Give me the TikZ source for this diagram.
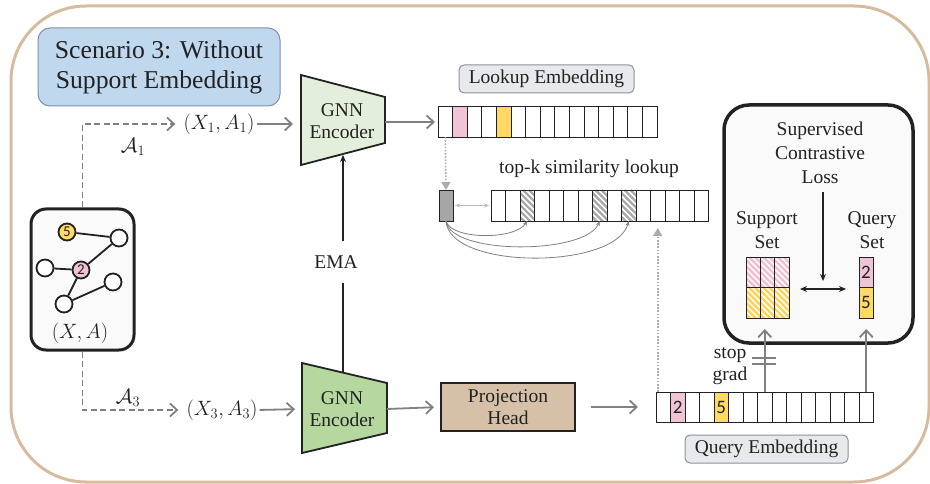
\documentclass[tikz,border=0pt]{standalone}
\usepackage{fontspec}
\setmainfont{Liberation Serif}
\newfontfamily\digitfont{Carlito}
\usetikzlibrary{arrows.meta,calc}
\definecolor{framec}{HTML}{D6BC9E}
\definecolor{scenfill}{HTML}{C0D8EE}
\definecolor{scendraw}{HTML}{8090A8}
\definecolor{lblfill}{HTML}{E8E9EC}
\definecolor{lbldraw}{HTML}{8C929C}
\definecolor{lgreen}{HTML}{E3EFDA}
\definecolor{mgreen}{HTML}{B5D89E}
\definecolor{projc}{HTML}{D6C1A8}
\definecolor{pinkc}{HTML}{F0C4D6}
\definecolor{pinkh}{HTML}{F2BCD2}
\definecolor{yellc}{HTML}{FFD966}
\definecolor{yellh}{HTML}{FFD34D}
\definecolor{greyc}{HTML}{A6A6A6}
\definecolor{greyh}{HTML}{A8A8A8}
\definecolor{arrg}{HTML}{808080}
\definecolor{dotg}{HTML}{ABABAB}
\definecolor{textc}{HTML}{222222}
\tikzset{
  cell/.style={draw=textc, line width=0.9pt, minimum width=14.5pt, minimum height=31pt, inner sep=0pt, outer sep=0pt, font=\digitfont\fontsize{19}{19}\selectfont},
  hatch/.style={path picture={\foreach \k in {-45,-39,...,20}{\draw[#1,line width=2.2pt] ($(path picture bounding box.north west)+(\k,0)$) -- ++(50,50);}}},
  ghatch/.style={hatch=greyh},
  plaincell/.style={fill=white},
  garrow/.style={draw=arrg, line width=1.8pt, -{Straight Barb[length=7pt,width=13pt]}},
  dasharrow/.style={draw=arrg, line width=1.8pt, dash pattern=on 6pt off 3.5pt, -{Straight Barb[length=7pt,width=13pt]}},
  barrow/.style={draw=textc, line width=1.8pt, -{Stealth[length=7pt,width=6pt]}},
  dotarrow/.style={draw=dotg, line width=1.6pt, dash pattern=on 1.6pt off 1.6pt, -{Triangle[length=8pt,width=9pt]}},
  thinarrow/.style={draw=arrg, line width=0.8pt, -{Stealth[length=5pt,width=4pt]}},
  lbl/.style={draw=lbldraw, fill=lblfill, line width=1pt, rounded corners=5pt, inner sep=0pt},
  gnode/.style={circle, draw=textc, line width=1.8pt, fill=white, minimum size=17pt, inner sep=0pt, font=\digitfont\fontsize{15}{15}\selectfont},
}
\begin{document}
\begin{tikzpicture}[x=1pt,y=-1pt, font=\fontsize{19.5}{23}\selectfont, text=textc]
\useasboundingbox (0,0) rectangle (930,484);
% outer frame
\draw[framec, line width=3pt, rounded corners=75pt] (11,6) rectangle (929,482);
% scenario label
\node[draw=scendraw, fill=scenfill, line width=1pt, rounded corners=12pt, minimum width=242pt, minimum height=78pt, align=center, font=\fontsize{25.7}{30}\selectfont] (scen) at (159,67) {Scenario 3: Without\\Support Embedding};
% graph box
\node[draw=textc, fill=black!2, line width=3pt, rounded corners=15pt, minimum width=103pt, minimum height=141pt] (gbox) at (82.5,279.5) {};
\node[gnode, fill=yellc] (n5) at (67,232) {5};
\node[gnode] (na) at (119,238) {};
\node[gnode] (nb) at (45,268) {};
\node[gnode, fill=pinkc] (n2) at (81,270) {2};
\node[gnode] (nc) at (113,282) {};
\node[gnode] (nd) at (64,304) {};
\draw[textc, line width=1.8pt] (n5) -- (na) (nb) -- (n2) (n2) -- (na) (n2) -- (nd) (nd) -- (nc);
\node (xa) at (80,333) {$(X,A)$};
% augmented views
\node[inner sep=0pt] (xa1) at (219,124) {$(X_1,A_1)$};
\node[inner sep=0pt] (xa3) at (222,410) {$(X_3,A_3)$};
\draw[dasharrow, shorten >=8pt] (gbox.north) |- (xa1.west);
\draw[dasharrow, shorten >=8pt] (gbox.south) |- (xa3.west);
\node at (133,147) {$\mathcal{A}_1$};
\node at (128,398) {$\mathcal{A}_3$};
% encoders
\coordinate (e1a) at (301,75); \coordinate (e1b) at (385,97); \coordinate (e1c) at (385,143); \coordinate (e1d) at (301,165);
\filldraw[fill=lgreen, draw=textc, line width=1.8pt] (e1a) -- (e1b) -- (e1c) -- (e1d) -- cycle;
\node[align=center, font=\fontsize{19.5}{22}\selectfont] (enc1) at (342,121) {GNN\\Encoder};
\coordinate (e2a) at (302,363); \coordinate (e2b) at (387,383); \coordinate (e2c) at (387,433); \coordinate (e2d) at (302,453);
\filldraw[fill=mgreen, draw=textc, line width=1.8pt] (e2a) -- (e2b) -- (e2c) -- (e2d) -- cycle;
\node[align=center, font=\fontsize{19.5}{22}\selectfont] (enc2) at (342,409) {GNN\\Encoder};
\coordinate (e1in) at (301,124); \coordinate (e2in) at (302,409);
\coordinate (e1out) at (385,122); \coordinate (e2out) at (387,409);
\coordinate (e1bot) at (343,155); \coordinate (e2top) at (343,373);
\draw[garrow, shorten <=2pt, shorten >=8pt] (xa1.east) -- (xa1.east -| e1in);
\draw[garrow, shorten <=2pt, shorten >=7pt] (xa3.east) -- (e2in);
\draw[barrow] (e2top) -- (e1bot);
\node[fill=white, inner sep=2pt, minimum height=42pt] (ema) at (336,262) {EMA};
% lookup embedding
\node[lbl, minimum width=175pt, minimum height=28pt] (lklbl) at (546.5,79) {Lookup Embedding};
\foreach \i/\f in {0/white,1/pinkc,2/white,3/white,4/yellc,5/white,6/white,7/white,8/white,9/white,10/white,11/white,12/white,13/white,14/white}{
  \node[cell, fill=\f, minimum width=14.6pt] (lk\i) at ({438+14.6*\i+7.3},121.5) {};
}
\draw[garrow, shorten >=3pt] (e1out) -- (lk0.west |- e1out);
% similarity lookup
\node (simt) at (589,169) {top-k similarity lookup};
\node[cell, fill=greyc, minimum width=14pt] (gq) at (446,205.5) {};
\foreach \i/\s in {0/plaincell,1/plaincell,2/ghatch,3/plaincell,4/plaincell,5/plaincell,6/plaincell,7/ghatch,8/plaincell,9/ghatch,10/plaincell,11/plaincell,12/plaincell,13/plaincell,14/plaincell}{
  \node[cell, \s] (s\i) at ({491+14.5*\i+7.25},205.5) {};
}
\draw[dotarrow] (lk0.south) -- (gq.north);
\draw[draw=dotg!80, line width=0.8pt, {Stealth[length=5pt,width=4pt]}-{Stealth[length=5pt,width=4pt]}, shorten <=2pt, shorten >=2pt] (gq.east) -- (s0.west);
\draw[thinarrow] (gq.south) .. controls (451,240) and (515,240) .. (s2.south);
\draw[thinarrow] (gq.south) .. controls (450,255) and (585,255) .. (s7.south);
\draw[thinarrow] (gq.south) .. controls (449,270) and (615,270) .. (s9.south);
% projection head
\node[draw=textc, fill=projc, line width=2pt, minimum width=134pt, minimum height=48pt, align=center, font=\fontsize{19.5}{22}\selectfont] (proj) at (508,407) {Projection\\Head};
\draw[garrow, shorten >=6pt] (e2out) -- (proj.west);
% query embedding
\foreach \i/\f/\t in {0/white/,1/pinkc/2,2/white/,3/white/,4/yellc/5,5/white/,6/white/,7/white/,8/white/,9/white/,10/white/,11/white/,12/white/,13/white/,14/white/}{
  \node[cell, fill=\f, minimum height=30pt] (q\i) at ({656+14.5*\i+7.25},407) {\t};
}
\draw[garrow, shorten <=15pt, shorten >=18pt] (proj.east) -- (q0.west);
\node[lbl, minimum width=163pt, minimum height=28pt] (qlbl) at (766.5,449) {Query Embedding};
\draw[dotarrow, shorten >=7pt] (s11.south |- q0.north) -- (s11.south);
% loss box
\node[draw=textc, fill=black!2, line width=3.5pt, rounded corners=25pt, minimum width=189pt, minimum height=238pt] (loss) at (818.5,224) {};
\node[align=center, font=\fontsize{19.5}{24}\selectfont] (losst) at (820,153) {Supervised\\Contrastive\\Loss};
\node[align=center, font=\fontsize{19.5}{24}\selectfont] (supt) at (767,230) {Support\\Set};
\node[align=center, font=\fontsize{19.5}{24}\selectfont] (qryt) at (872,230) {Query\\Set};
\foreach \c in {0,1,2}{
  \node[cell, hatch=pinkh, minimum width=14.33pt, minimum height=30.5pt] (sp\c) at ({746+14.33*\c+7.17},272.25) {};
  \node[cell, hatch=yellh, minimum width=14.33pt, minimum height=30.5pt] (sy\c) at ({746+14.33*\c+7.17},302.75) {};
}
\node[cell, fill=pinkc, minimum width=14pt, minimum height=30.5pt] (qs2) at (866,272.25) {2};
\node[cell, fill=yellc, minimum width=14pt, minimum height=30.5pt] (qs5) at (866,302.75) {5};
\coordinate (lossin) at (823,192);
\coordinate (lossmid) at (823,281);
\draw[barrow] (lossin) -- (lossmid);
\coordinate (dl) at (800,289); \coordinate (dr) at (846,289);
\draw[draw=textc, line width=1.8pt, {Stealth[length=7pt,width=6pt]}-{Stealth[length=7pt,width=6pt]}] (dl) -- (dr);
% arrows from query embedding
\draw[garrow, shorten >=11pt] (q7.north) -- (q7.north |- sy1.south);
\draw[garrow, shorten >=11pt] (q14.north) -- (q14.north |- qs5.south);
\draw[arrg, line width=1.8pt] (752,358) -- (776,358) (752,364) -- (776,364);
\node[align=center, font=\fontsize{19.5}{22}\selectfont] (sg) at (730,366) {stop\\grad};
\end{tikzpicture}
\end{document}
